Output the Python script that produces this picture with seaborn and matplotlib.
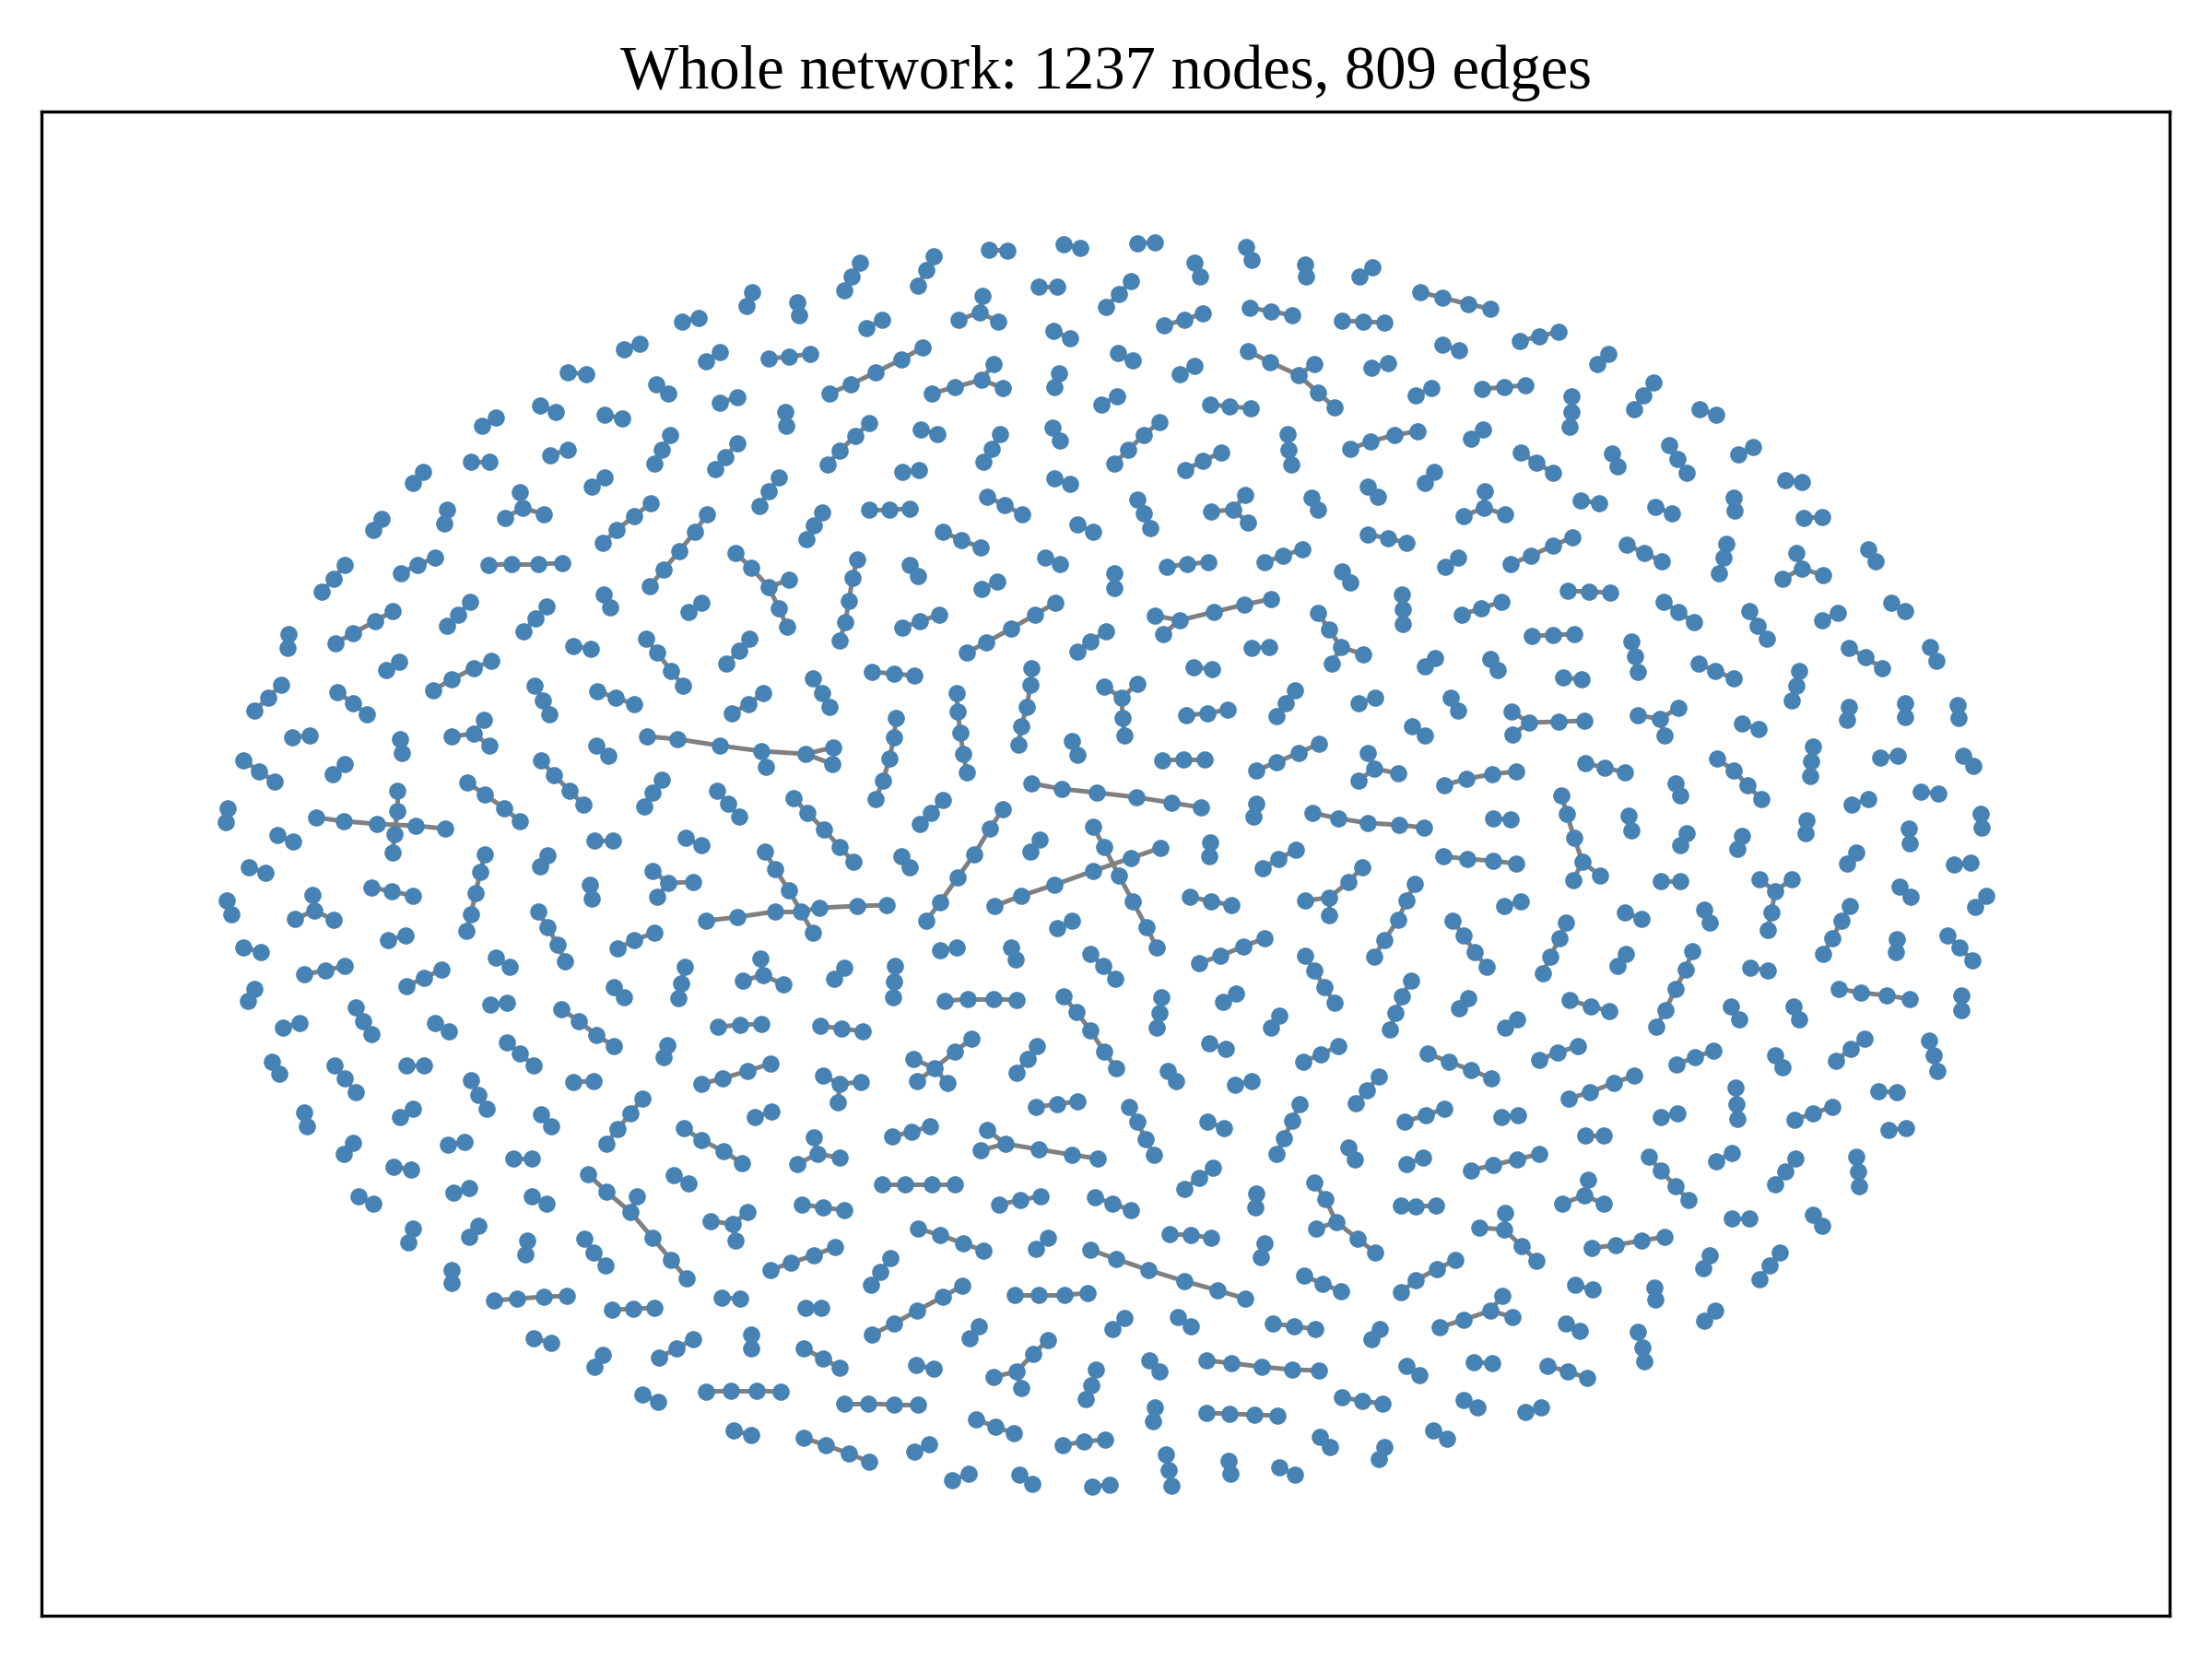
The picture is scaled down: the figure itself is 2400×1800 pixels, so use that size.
import matplotlib
matplotlib.use("Agg")
import matplotlib.pyplot as plt
from matplotlib.collections import LineCollection
import pandas as pd
import seaborn as sns

TITLE = "Whole network: 1237 nodes, 809 edges"

# node positions (pixel units, y pointing down).
# every inner list is one path; branching components repeat the shared node.
chains_nw = [
    [(816, 317), (810, 332)], [(865, 328), (867, 342)], [(740, 349), (758, 345)],
    [(677, 379), (694, 373)], [(766, 392), (781, 382)], [(834, 389), (856, 387), (879, 384)],
    [(616, 404), (636, 406)], [(712, 417), (725, 427)], [(781, 437), (800, 431)],
    [(852, 447), (853, 462)], [(523, 462), (538, 453)], [(586, 440), (603, 447)],
    [(656, 450), (675, 454)], [(511, 501), (531, 501)], [(597, 494), (616, 488)],
    [(727, 472), (718, 488), (710, 503)], [(800, 481), (787, 496), (776, 509)],
    [(459, 512), (448, 524)], [(656, 518), (642, 528)], [(845, 518), (834, 533), (824, 549)],
    [(414, 563), (405, 575)], [(485, 553), (482, 568)],
    [(564, 534), (567, 551), (548, 562)], [(567, 551), (590, 558)],
    [(706, 546), (688, 560), (669, 575), (654, 589)],
    [(767, 558), (754, 577), (737, 598), (720, 618), (705, 636)],
    [(374, 613), (362, 628), (349, 642)], [(472, 605), (453, 613), (435, 622)],
    [(530, 613), (555, 612), (584, 612), (610, 611)],
    [(798, 600), (815, 616), (834, 637), (845, 660), (854, 680)], [(834, 637), (856, 629)],
    [(510, 653), (497, 667), (485, 679)], [(593, 658), (581, 671), (568, 685)],
    [(655, 645), (662, 659)], [(761, 654), (747, 664)], [(313, 688), (312, 703)],
    [(426, 663), (407, 674), (383, 687), (364, 698)], [(622, 701), (641, 704)],
    [(701, 693), (713, 708), (728, 728), (741, 744)], [(813, 693), (802, 706), (788, 720)],
]

chains_n = [
    [(933, 285), (924, 300), (916, 315)], [(1013, 278), (1005, 293), (996, 310)],
    [(1073, 271), (1093, 272)], [(1154, 265), (1172, 269)], [(1234, 264), (1253, 263)],
    [(1352, 268), (1358, 282)], [(1296, 285), (1302, 300)], [(1416, 287), (1417, 300)],
    [(1475, 300), (1489, 290)],
    [(1066, 321), (1063, 339), (1040, 347)], [(1063, 339), (1083, 349)],
    [(1127, 311), (1147, 311)], [(1227, 305), (1214, 319), (1200, 333)],
    [(940, 356), (957, 347)], [(1001, 377), (978, 390), (950, 404), (923, 417), (900, 427)],
    [(1011, 427), (1036, 420), (1065, 412), (1078, 395)], [(1065, 412), (1088, 421)],
    [(1143, 359), (1161, 367)], [(1263, 353), (1285, 347), (1305, 340)],
    [(1356, 334), (1379, 338), (1402, 342)], [(1456, 348), (1479, 349), (1502, 350)],
    [(1213, 383), (1229, 391)], [(1280, 406), (1296, 397)],
    [(1354, 381), (1378, 393), (1409, 407), (1430, 426), (1448, 442)], [(1409, 407), (1426, 395)],
    [(1488, 399), (1506, 394)], [(1149, 405), (1144, 420)], [(1195, 439), (1212, 430)],
    [(1313, 439), (1334, 441), (1357, 443)], [(943, 459), (928, 473), (911, 489), (898, 504)],
    [(999, 466), (1017, 471)], [(1085, 471), (1076, 487), (1067, 501)],
    [(1142, 464), (1150, 478)], [(1258, 458), (1241, 472), (1224, 488), (1209, 503)],
    [(1397, 471), (1398, 488), (1401, 504)], [(1465, 487), (1487, 479), (1513, 472), (1538, 468)],
    [(979, 512), (997, 510)], [(1286, 510), (1305, 500), (1325, 491)],
    [(1144, 519), (1161, 525)], [(1484, 528), (1495, 539)], [(1423, 540), (1430, 553)],
    [(892, 556), (883, 570), (875, 585)], [(943, 553), (965, 553), (987, 552)],
    [(1071, 539), (1090, 548), (1109, 558)], [(1234, 542), (1241, 557), (1248, 573)],
    [(1351, 537), (1338, 553), (1314, 555)], [(1338, 553), (1354, 567)],
    [(1169, 569), (1186, 577)], [(1023, 577), (1043, 586), (1064, 594)],
    [(1484, 580), (1506, 584), (1526, 589)],
    [(930, 607), (925, 627), (921, 652), (917, 675), (911, 695)],
    [(987, 613), (996, 625)], [(1134, 605), (1150, 612)],
    [(1266, 615), (1288, 612), (1311, 610)], [(1372, 610), (1392, 603), (1413, 596)],
    [(1456, 620), (1465, 632)], [(1065, 639), (1082, 631)], [(1209, 622), (1209, 638)],
    [(979, 681), (998, 674), (1019, 667)],
    [(1145, 654), (1123, 667), (1097, 682), (1070, 697), (1049, 708)],
    [(1253, 668), (1280, 673), (1317, 664), (1350, 656), (1379, 650)], [(1280, 673), (1262, 688)],
    [(1200, 685), (1183, 696), (1169, 707)],
    [(1430, 665), (1442, 683), (1455, 702), (1479, 710)], [(1455, 702), (1445, 720)],
    [(1358, 703), (1377, 702)], [(1521, 645), (1522, 661), (1522, 677)],
]

chains_ne = [
    [(1541, 317), (1565, 323), (1593, 330), (1617, 335)], [(1565, 374), (1583, 380)],
    [(1649, 370), (1670, 365), (1691, 360)], [(1733, 395), (1745, 384)],
    [(1536, 429), (1553, 421)], [(1608, 422), (1632, 420), (1655, 418)],
    [(1705, 430), (1705, 447), (1703, 463)], [(1794, 415), (1783, 429), (1773, 444)],
    [(1844, 444), (1862, 450)], [(1596, 476), (1609, 466)],
    [(1650, 491), (1667, 502), (1685, 513)], [(1749, 492), (1755, 506)],
    [(1811, 483), (1820, 498), (1830, 513)], [(1886, 493), (1902, 485)],
    [(1937, 521), (1955, 523)], [(1546, 524), (1556, 512)],
    [(1611, 533), (1610, 551), (1588, 560)], [(1610, 551), (1633, 558)],
    [(1715, 543), (1735, 546)], [(1796, 550), (1814, 557)], [(1881, 540), (1882, 554)],
    [(1957, 562), (1977, 561)], [(1568, 615), (1582, 605)],
    [(1639, 612), (1661, 603), (1685, 592), (1706, 583)],
    [(1765, 591), (1784, 600), (1803, 609)], [(1873, 590), (1870, 605), (1865, 622)],
    [(1949, 600), (1955, 617), (1934, 628)], [(1955, 617), (1978, 624)],
    [(2027, 596), (2035, 609)], [(1586, 667), (1607, 660), (1629, 653)],
    [(1701, 641), (1724, 642), (1747, 643)], [(1805, 653), (1821, 664), (1838, 675)],
    [(1898, 663), (1907, 679), (1917, 693)], [(1977, 673), (1994, 665)],
    [(2052, 654), (2067, 663)], [(1662, 690), (1685, 689), (1708, 688)],
    [(1770, 696), (1774, 712), (1777, 729)], [(2006, 703), (2024, 713), (2042, 725)],
    [(2094, 702), (2101, 717)],
]

chains_w = [
    [(533, 717), (514, 725), (490, 737), (470, 749)], [(433, 718), (419, 727)],
    [(305, 743), (291, 757), (276, 771)], [(366, 751), (383, 763), (398, 775)],
    [(317, 800), (336, 798)], [(434, 802), (436, 817)],
    [(525, 781), (514, 796), (490, 799)], [(514, 796), (531, 809)],
    [(580, 744), (589, 760), (596, 775)], [(648, 750), (668, 757), (688, 764)],
    [(828, 752), (812, 764), (794, 774)],
    [(702, 799), (735, 802), (781, 809), (826, 815), (874, 818), (904, 811)],
    [(826, 815), (831, 832)], [(874, 818), (903, 829)],
    [(647, 809), (660, 820)], [(264, 825), (281, 837), (298, 848)],
    [(374, 829), (361, 840)], [(247, 877), (245, 892)],
    [(343, 887), (373, 891), (409, 894), (451, 896), (483, 899)],
    [(431, 858), (431, 880), (428, 905), (426, 925)], [(301, 906), (318, 913)],
    [(507, 849), (526, 862), (547, 877), (564, 891)], [(587, 825), (601, 841), (618, 858), (633, 873)],
    [(718, 846), (708, 860), (699, 875)], [(778, 858), (790, 872), (802, 886)],
    [(861, 866), (876, 882), (894, 900), (911, 919), (926, 935)],
    [(645, 912), (665, 912)], [(744, 909), (761, 917)], [(270, 941), (288, 947)],
    [(526, 927), (521, 946), (516, 969), (511, 992), (506, 1010)],
    [(594, 928), (586, 940)], [(640, 960), (642, 975)],
    [(708, 945), (725, 958), (752, 957)], [(725, 958), (713, 973)],
    [(766, 999), (800, 995), (841, 989), (869, 989), (889, 985), (930, 983), (962, 982)],
    [(830, 924), (841, 943), (856, 966), (869, 989)], [(869, 989), (882, 1012)],
    [(246, 977), (251, 992)],
    [(339, 971), (341, 988), (320, 997)], [(341, 988), (362, 998)],
    [(403, 963), (425, 967), (448, 972)], [(584, 989), (594, 1006), (605, 1025), (613, 1043)],
    [(670, 1029), (688, 1020), (710, 1012)], [(264, 1028), (283, 1033)],
    [(421, 1020), (440, 1015)], [(538, 1039), (553, 1049)],
    [(330, 1057), (353, 1053), (374, 1048)], [(441, 1070), (460, 1061), (479, 1052)],
    [(276, 1073), (269, 1086)], [(743, 1049), (739, 1067), (736, 1083)],
    [(825, 1040), (828, 1058), (806, 1064)], [(828, 1058), (850, 1068)],
    [(666, 1071), (677, 1082)], [(532, 1090), (550, 1088)],
    [(386, 1093), (394, 1108), (403, 1122)], [(307, 1115), (325, 1110)],
    [(472, 1110), (487, 1119)], [(609, 1095), (628, 1108), (647, 1123), (666, 1135)],
    [(779, 1114), (803, 1112), (826, 1111)], [(724, 1134), (720, 1147)],
    [(295, 1152), (303, 1165)], [(363, 1156), (374, 1170), (386, 1185)],
    [(550, 1131), (564, 1143), (579, 1156)], [(441, 1156), (460, 1156)],
    [(511, 1172), (519, 1188), (528, 1203)], [(622, 1174), (644, 1173)],
    [(761, 1176), (784, 1170), (811, 1162), (836, 1154)],
]

chains_c = [
    [(882, 736), (892, 752), (900, 767)], [(946, 729), (970, 731), (992, 733)],
    [(1038, 752), (1039, 772), (1042, 795), (1045, 818), (1049, 838)],
    [(972, 779), (970, 800), (965, 823), (958, 847), (950, 867)],
    [(1119, 725), (1118, 743), (1114, 767), (1108, 788), (1105, 808)],
    [(1198, 745), (1217, 757), (1234, 742)], [(1217, 757), (1218, 779), (1220, 798)],
    [(1295, 724), (1315, 726)], [(1287, 776), (1310, 774), (1332, 770)],
    [(1405, 749), (1395, 763), (1385, 777)], [(1474, 763), (1492, 757)],
    [(1163, 804), (1169, 819)], [(1261, 825), (1284, 824), (1307, 824)],
    [(1363, 836), (1385, 827), (1409, 817), (1431, 807)],
    [(1484, 817), (1491, 834), (1474, 847)], [(1491, 834), (1517, 839)],
    [(1119, 850), (1152, 856), (1190, 860), (1233, 865), (1271, 871), (1303, 876)],
    [(1023, 868), (1010, 882), (998, 894)], [(1363, 872), (1360, 886)],
    [(1424, 882), (1452, 888), (1484, 893), (1518, 895), (1545, 898)],
    [(1088, 878), (1074, 899), (1057, 927), (1039, 952), (1020, 979), (1005, 999)],
    [(1128, 911), (1118, 924)], [(978, 929), (987, 941)],
    [(1079, 983), (1108, 972), (1144, 960), (1186, 945), (1227, 931), (1259, 920)],
    [(1186, 897), (1198, 919), (1214, 950), (1229, 978), (1244, 1006), (1255, 1028)],
    [(1313, 914), (1312, 929)], [(1370, 942), (1387, 932), (1406, 922)],
    [(1478, 941), (1463, 957), (1442, 974), (1416, 977)], [(1442, 974), (1442, 993)],
    [(1291, 973), (1314, 978), (1336, 982)],
    [(1535, 959), (1526, 977), (1517, 998), (1502, 1020), (1491, 1038)],
    [(1147, 1007), (1163, 999)], [(1020, 1031), (1038, 1028)], [(1097, 1028), (1102, 1041)],
    [(1183, 1035), (1197, 1048), (1210, 1062)],
    [(1301, 1045), (1324, 1037), (1349, 1027), (1372, 1018)],
    [(1416, 1037), (1426, 1053), (1437, 1071), (1448, 1088)],
    [(916, 1050), (905, 1062)], [(971, 1048), (970, 1065), (969, 1082)],
    [(1025, 1086), (1050, 1084), (1078, 1084), (1103, 1085)],
    [(1154, 1081), (1168, 1098), (1183, 1118), (1198, 1141), (1211, 1159)],
    [(1260, 1082), (1258, 1099), (1255, 1115)], [(1341, 1078), (1327, 1087)],
    [(1388, 1102), (1379, 1115)], [(1531, 1064), (1521, 1081), (1514, 1099), (1508, 1117)],
    [(890, 1113), (913, 1116), (936, 1119)],
    [(1054, 1127), (1036, 1141), (1014, 1159), (991, 1149)],
    [(1014, 1159), (995, 1173)], [(1014, 1159), (1028, 1175)],
    [(893, 1167), (911, 1176), (934, 1174)], [(911, 1176), (909, 1196)],
    [(1125, 1135), (1115, 1149), (1103, 1164)], [(1267, 1162), (1276, 1173)],
    [(1312, 1132), (1330, 1138)], [(1452, 1135), (1433, 1144), (1414, 1152)],
    [(1340, 1177), (1358, 1173)], [(1496, 1168), (1483, 1183), (1471, 1197)],
]

chains_e = [
    [(1546, 723), (1557, 714)], [(1617, 715), (1625, 727)], [(1696, 735), (1716, 737)],
    [(1843, 720), (1861, 728), (1881, 736)], [(1952, 728), (1949, 744), (1944, 760)],
    [(1574, 757), (1582, 771)],
    [(1640, 772), (1659, 784), (1691, 783), (1719, 782)], [(1659, 784), (1641, 797)],
    [(1777, 776), (1801, 780), (1821, 768)], [(1801, 780), (1806, 798)],
    [(1890, 785), (1908, 791)], [(2006, 767), (2004, 781)], [(2067, 763), (2067, 778)],
    [(2124, 765), (2125, 779)], [(1532, 788), (1546, 798)],
    [(1967, 810), (1965, 826), (1964, 842)], [(2040, 822), (2059, 820)],
    [(2130, 820), (2141, 831)], [(1567, 852), (1591, 845), (1619, 840), (1645, 837)],
    [(1720, 828), (1741, 833), (1763, 838)], [(1863, 823), (1881, 836), (1896, 852), (1911, 867)],
    [(1818, 850), (1823, 863)], [(2009, 873), (2027, 867)], [(2084, 859), (2103, 861)],
    [(2149, 883), (2150, 898)], [(1620, 888), (1639, 889)],
    [(1694, 863), (1700, 883), (1708, 909), (1717, 935), (1707, 955)], [(1717, 935), (1736, 950)],
    [(1767, 885), (1770, 901)], [(1830, 904), (1823, 917)], [(1890, 907), (1885, 921)],
    [(1960, 890), (1959, 904)], [(2071, 899), (2072, 915)], [(2014, 925), (2004, 937)],
    [(2120, 938), (2138, 936)], [(1566, 929), (1592, 932), (1620, 934), (1645, 937)],
    [(1802, 956), (1823, 956)],
    [(1909, 954), (1926, 967), (1944, 954)], [(1926, 967), (1922, 990), (1918, 1009)],
    [(2061, 962), (2073, 973)], [(2155, 972), (2143, 984)], [(1632, 983), (1650, 978)],
    [(1576, 999), (1588, 1015), (1600, 1033), (1613, 1049)],
    [(1699, 1001), (1692, 1018), (1682, 1038), (1674, 1056)],
    [(1763, 990), (1781, 997)], [(1849, 987), (1855, 1001)],
    [(2007, 983), (1998, 999), (1988, 1018), (1978, 1035)], [(2058, 1019), (2057, 1033)],
    [(2113, 1015), (2126, 1028), (2140, 1042)], [(1764, 1035), (1755, 1048)],
    [(1836, 1032), (1829, 1052), (1818, 1073), (1807, 1096), (1797, 1114)],
    [(1899, 1050), (1918, 1053)], [(1593, 1083), (1583, 1094)],
    [(1703, 1085), (1726, 1092), (1746, 1097)], [(1878, 1092), (1887, 1106)],
    [(1946, 1092), (1952, 1106)], [(1995, 1073), (2019, 1077), (2047, 1080), (2072, 1084)],
    [(2128, 1080), (2128, 1096)], [(1646, 1106), (1633, 1115)],
    [(1549, 1143), (1572, 1152), (1596, 1161), (1618, 1170)],
    [(1712, 1135), (1690, 1142), (1670, 1150)], [(1859, 1140), (1839, 1147), (1819, 1155)],
    [(1926, 1145), (1934, 1158)], [(2023, 1127), (2008, 1138), (1992, 1151)],
    [(2093, 1129), (2098, 1145), (2102, 1162)],
    [(1773, 1167), (1751, 1175), (1725, 1185), (1702, 1192)],
    [(1883, 1180), (1884, 1198), (1885, 1214)], [(2038, 1184), (2058, 1185)],
]

chains_sw = [
    [(330, 1207), (333, 1222)], [(448, 1203), (434, 1212)], [(587, 1209), (598, 1222)],
    [(697, 1192), (684, 1208), (670, 1225), (658, 1241)], [(837, 1206), (819, 1212)],
    [(383, 1240), (373, 1252)], [(486, 1242), (504, 1239)], [(557, 1257), (577, 1257)],
    [(742, 1224), (761, 1237), (785, 1249), (805, 1262)], [(427, 1266), (446, 1269)],
    [(731, 1275), (747, 1284)], [(389, 1298), (405, 1306)], [(492, 1294), (509, 1289)],
    [(577, 1298), (593, 1306)],
    [(638, 1274), (658, 1293), (684, 1315), (708, 1343), (728, 1367), (745, 1387)],
    [(684, 1315), (691, 1298)],
    [(771, 1325), (795, 1328), (811, 1315)], [(795, 1328), (798, 1346)],
    [(448, 1333), (443, 1348)], [(519, 1330), (509, 1342)], [(572, 1346), (570, 1361)],
    [(634, 1344), (644, 1359), (657, 1373)], [(836, 1378), (858, 1370), (883, 1362), (906, 1353)],
    [(490, 1378), (490, 1392)], [(536, 1411), (561, 1409), (590, 1407), (615, 1406)],
    [(664, 1421), (687, 1420), (710, 1419)], [(783, 1408), (803, 1409)],
    [(874, 1419), (891, 1419)], [(579, 1452), (598, 1457)], [(654, 1470), (645, 1483)],
    [(752, 1453), (734, 1463), (715, 1473)], [(815, 1448), (815, 1463)],
    [(872, 1463), (893, 1474), (911, 1484)], [(766, 1510), (793, 1509), (821, 1509), (847, 1510)],
    [(697, 1513), (714, 1521)], [(796, 1552), (815, 1557)],
    [(872, 1560), (896, 1568), (921, 1577), (943, 1586)],
]

chains_s = [
    [(1124, 1201), (1147, 1198), (1169, 1195)], [(1225, 1201), (1234, 1217), (1243, 1236), (1252, 1253)],
    [(1310, 1217), (1328, 1224)], [(1410, 1198), (1402, 1216), (1393, 1235), (1385, 1252)],
    [(1463, 1245), (1470, 1258)], [(1524, 1217), (1547, 1210), (1567, 1203)],
    [(968, 1233), (989, 1228), (1009, 1222)],
    [(883, 1234), (887, 1252), (911, 1256)], [(887, 1252), (865, 1263)],
    [(1071, 1226), (1091, 1241), (1127, 1247), (1163, 1253), (1191, 1257)], [(1091, 1241), (1064, 1248)],
    [(1316, 1267), (1301, 1278), (1285, 1290)], [(1363, 1295), (1362, 1310)],
    [(1426, 1283), (1438, 1301), (1450, 1326), (1473, 1344), (1492, 1359)], [(1450, 1326), (1428, 1333)],
    [(1520, 1308), (1536, 1309), (1558, 1308)], [(957, 1285), (982, 1285), (1011, 1285), (1036, 1285)],
    [(870, 1307), (893, 1310), (916, 1313)], [(1084, 1307), (1107, 1302), (1129, 1298)],
    [(1188, 1299), (1207, 1306), (1227, 1313)], [(996, 1333), (1020, 1340), (1045, 1349), (1067, 1357)],
    [(1137, 1343), (1124, 1355)], [(1269, 1339), (1292, 1340), (1314, 1343)],
    [(1372, 1349), (1368, 1364)], [(966, 1365), (955, 1380), (945, 1394)],
    [(1183, 1356), (1211, 1366), (1246, 1378), (1285, 1390), (1321, 1400), (1351, 1409)],
    [(1415, 1384), (1435, 1393), (1455, 1401)], [(1520, 1402), (1536, 1389), (1559, 1377), (1579, 1367)],
    [(1044, 1395), (1023, 1407), (995, 1422), (970, 1436), (946, 1448)],
    [(1101, 1405), (1127, 1405), (1155, 1405), (1180, 1403)],
    [(1220, 1430), (1207, 1442)], [(1278, 1429), (1292, 1439)],
    [(1381, 1436), (1404, 1439), (1427, 1442)], [(1497, 1442), (1488, 1453)],
    [(1062, 1439), (1052, 1452)],
    [(1137, 1454), (1121, 1469), (1103, 1488), (1078, 1494)], [(1103, 1488), (1108, 1506)],
    [(994, 1481), (1013, 1485)], [(1189, 1486), (1184, 1503), (1178, 1518)],
    [(1247, 1476), (1258, 1488)], [(1309, 1476), (1336, 1479), (1369, 1483), (1402, 1486), (1431, 1487)],
    [(1526, 1482), (1540, 1492)], [(916, 1523), (942, 1523), (970, 1524), (996, 1524)],
    [(1059, 1540), (1080, 1548), (1100, 1555)], [(1253, 1527), (1251, 1542)],
    [(1309, 1533), (1334, 1534), (1361, 1535), (1386, 1536)],
    [(1456, 1516), (1478, 1520), (1500, 1523)], [(1008, 1567), (992, 1575)],
    [(1153, 1568), (1176, 1564), (1199, 1562)], [(1432, 1559), (1443, 1570)],
    [(1502, 1570), (1496, 1583)], [(1051, 1599), (1033, 1606)], [(1106, 1600), (1120, 1610)],
    [(1185, 1613), (1204, 1611)], [(1265, 1578), (1268, 1595), (1271, 1612)],
    [(1333, 1585), (1335, 1599)], [(1388, 1592), (1405, 1600)],
]

chains_se = [
    [(1629, 1212), (1647, 1210)], [(1720, 1232), (1740, 1232)], [(1802, 1212), (1820, 1208)],
    [(1947, 1215), (1967, 1208), (1988, 1201)], [(2049, 1226), (2068, 1224)],
    [(1526, 1263), (1544, 1256)], [(1596, 1270), (1620, 1264), (1646, 1258), (1670, 1252)],
    [(1723, 1280), (1719, 1297), (1695, 1306)], [(1719, 1297), (1740, 1306)],
    [(1789, 1255), (1802, 1270), (1818, 1287), (1832, 1302)], [(1879, 1251), (1862, 1260)],
    [(1948, 1257), (1937, 1271), (1926, 1285)], [(2014, 1255), (2016, 1271), (2017, 1287)],
    [(1605, 1332), (1632, 1334), (1651, 1352), (1667, 1368)], [(1632, 1334), (1633, 1316)],
    [(1879, 1322), (1898, 1322)], [(1967, 1318), (1977, 1330)],
    [(1727, 1354), (1753, 1351), (1781, 1346), (1806, 1342)], [(1855, 1362), (1848, 1376)],
    [(1931, 1359), (1920, 1373), (1909, 1388)], [(1709, 1394), (1728, 1399)],
    [(1795, 1397), (1796, 1410)],
    [(1562, 1440), (1588, 1432), (1617, 1422), (1630, 1406)], [(1617, 1422), (1641, 1429)],
    [(1861, 1422), (1849, 1433)], [(1699, 1436), (1714, 1444)],
    [(1777, 1445), (1782, 1462), (1784, 1477)], [(1599, 1478), (1619, 1479)],
    [(1679, 1482), (1701, 1488), (1722, 1495)], [(1588, 1519), (1603, 1527)],
    [(1655, 1532), (1672, 1527)], [(1555, 1552), (1570, 1561)],
]

all_chains = (chains_nw + chains_n + chains_ne + chains_w + chains_c
              + chains_e + chains_sw + chains_s + chains_se)

sns.set_style("white")
plt.rcParams["font.family"] = ["Liberation Serif", "DejaVu Serif"]

nodes = sorted({p for ch in all_chains for p in ch})
node_df = pd.DataFrame(nodes, columns=["x", "y"])
segments = [[ch[i], ch[i + 1]] for ch in all_chains for i in range(len(ch) - 1)]

fig = plt.figure(figsize=(8, 6), dpi=300)
ax = fig.add_axes([0.0188, 0.0261, 0.962, 0.9067])

ax.add_collection(LineCollection(segments, colors="gray", linewidths=1.2, zorder=1))
sns.scatterplot(data=node_df, x="x", y="y", ax=ax, color="steelblue",
                s=20, linewidth=0, zorder=2)

ax.set_xlim(45, 2354)
ax.set_ylim(1753, 121)
ax.set_xticks([])
ax.set_yticks([])
ax.set_xlabel("")
ax.set_ylabel("")
for sp in ax.spines.values():
    sp.set_color("black")
    sp.set_linewidth(0.8)
ax.set_title(TITLE, fontsize=16, color="black")

fig.savefig("out.png", dpi=300)
